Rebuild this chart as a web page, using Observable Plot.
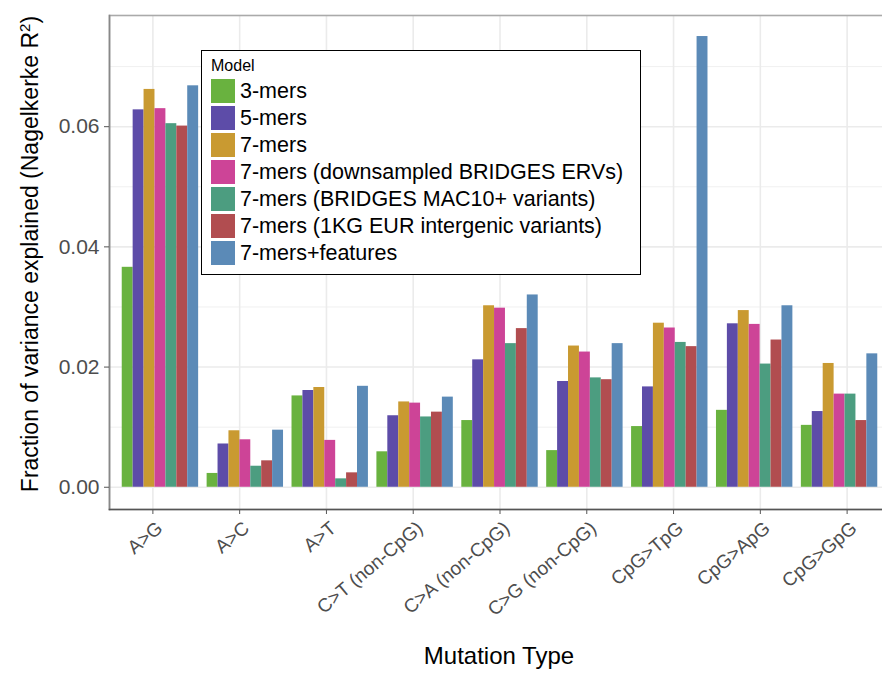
<!DOCTYPE html>
<html>
<head>
<meta charset="utf-8">
<script src="https://cdn.jsdelivr.net/npm/d3@7"></script>
<script src="https://cdn.jsdelivr.net/npm/@observablehq/plot@0.6"></script>
<style>
  html, body { margin: 0; padding: 0; background: #fff; overflow: hidden; }
  #wrap { position: relative; width: 882px; height: 677px; overflow: hidden; font-family: "Liberation Sans", Arial, sans-serif; }
  #wrap svg { position: absolute; left: 0; top: 0; max-width: none !important; }
  .ytitle { position: absolute; left: 30px; top: 254px; transform: translate(-50%, -50%) rotate(-90deg); white-space: nowrap; font-size: 23px; color: #000; }
  .xtitle { position: absolute; left: 499px; top: 642px; transform: translateX(-50%); white-space: nowrap; font-size: 24px; color: #000; }
  #legend { position: absolute; left: 201px; top: 50px; width: 438px; height: 223px; border: 1.5px solid #000; background: #fff; }
  #legend .title { position: absolute; left: 9px; top: 6px; font-size: 16px; }
  #legend .row { position: absolute; left: 9px; height: 24px; display: flex; align-items: center; white-space: nowrap; font-size: 21.5px; }
  #legend .sw { width: 24px; height: 24px; margin-right: 5px; flex: none; }
</style>
</head>
<body>
<div id="wrap"></div>
<script>
// ---- data ----
const types = ["A>G", "A>C", "A>T", "C>T (non-CpG)", "C>A (non-CpG)", "C>G (non-CpG)", "CpG>TpG", "CpG>ApG", "CpG>GpG"];
const models = ["3-mers", "5-mers", "7-mers", "7-mers (downsampled BRIDGES ERVs)", "7-mers (BRIDGES MAC10+ variants)", "7-mers (1KG EUR intergenic variants)", "7-mers+features"];
const mers3     = [0.0366, 0.0023, 0.0152, 0.0059, 0.0111, 0.0061, 0.0101, 0.0128, 0.0103];
const mers5     = [0.0628, 0.0072, 0.0161, 0.0119, 0.0212, 0.0176, 0.0167, 0.0272, 0.0126];
const mers7     = [0.0662, 0.0094, 0.0166, 0.0142, 0.0302, 0.0235, 0.0273, 0.0294, 0.0206];
const mers7down = [0.0630, 0.0079, 0.0078, 0.0140, 0.0298, 0.0225, 0.0265, 0.0271, 0.0155];
const mers7mac  = [0.0605, 0.0035, 0.0014, 0.0117, 0.0239, 0.0182, 0.0241, 0.0205, 0.0155];
const mers7kg   = [0.0601, 0.0044, 0.0024, 0.0125, 0.0264, 0.0179, 0.0234, 0.0245, 0.0111];
const mers7feat = [0.0668, 0.0095, 0.0168, 0.0150, 0.0320, 0.0239, 0.0750, 0.0302, 0.0222];
const majorTicks = [0, 0.02, 0.04, 0.06];
const minorTicks = [0.01, 0.03, 0.05, 0.07];
const colors = ["#69b23f", "#5d4ca8", "#c99a31", "#cd4497", "#4c9d80", "#b14d50", "#5b8ab7"];

const series = [mers3, mers5, mers7, mers7down, mers7mac, mers7kg, mers7feat];
const rows = [];
models.forEach((m, i) => types.forEach((t, j) => rows.push({model: m, type: t, value: series[i][j]})));

const W = 891, H = 677;
const common = {
  width: W, height: H,
  marginLeft: 109, marginRight: 1, marginTop: 15, marginBottom: 168
};
const yDomain = [-0.0037, 0.0785];
const font = "Liberation Sans, Arial, sans-serif";

// background: panel, grid, axes
const bg = Plot.plot({
  ...common,
  style: {background: "#fff", fontFamily: font, overflow: "visible", maxWidth: "none"},
  x: {domain: types, paddingInner: 0.1, paddingOuter: 0.15, round: false, axis: null},
  y: {domain: yDomain, axis: null},
  marks: [
    Plot.gridY(minorTicks, {stroke: "#f0f0f0", strokeOpacity: 1, strokeWidth: 1}),
    Plot.gridY(majorTicks, {stroke: "#ebebeb", strokeOpacity: 1, strokeWidth: 1.6}),
    Plot.gridX(types, {stroke: "#ebebeb", strokeOpacity: 1, strokeWidth: 1.6}),
    Plot.frame({stroke: "#aaaaaa", strokeWidth: 1.6}),
    Plot.frame({anchor: "left", stroke: "#888", strokeWidth: 1.6}),
    Plot.frame({anchor: "bottom", stroke: "#555", strokeWidth: 1.6}),
    Plot.axisY(majorTicks, {tickFormat: ".2f", tickSize: 5, tickPadding: 5, fontSize: 21, color: "#4d4d4d", stroke: "#555", label: null}),
    // tick marks only
    Plot.axisX(types, {tickSize: 5, tickFormat: () => "", stroke: "#555", label: null}),
    // rotated tick labels
    Plot.axisX(types, {tickRotate: -40, tickSize: 0, tickPadding: 9, fontSize: 19, color: "#4d4d4d", label: null, dx: 7, dy: 7})
  ]
});

// foreground: grouped bars
const fg = Plot.plot({
  ...common,
  style: {background: "transparent", fontFamily: font, maxWidth: "none"},
  fx: {domain: types, paddingInner: 0.1, paddingOuter: 0.15, round: false, axis: null},
  x: {domain: models, padding: 0, round: false, axis: null},
  y: {domain: yDomain, axis: null},
  color: {domain: models, range: colors},
  marks: [
    Plot.barY(rows, {fx: "type", x: "model", y: "value", fill: "model", inset: 0})
  ]
});

const wrap = document.getElementById("wrap");
wrap.appendChild(bg);
wrap.appendChild(fg);

const yt = document.createElement("div");
yt.className = "ytitle";
yt.innerHTML = "Fraction of variance explained (Nagelkerke R<sup style=\"font-size:15px\">2</sup>)";
wrap.appendChild(yt);

const xt = document.createElement("div");
xt.className = "xtitle";
xt.textContent = "Mutation Type";
wrap.appendChild(xt);

const lg = document.createElement("div");
lg.id = "legend";
const lt = document.createElement("div");
lt.className = "title";
lt.textContent = "Model";
lg.appendChild(lt);
models.forEach((m, i) => {
  const r = document.createElement("div");
  r.className = "row";
  r.style.top = (28 + i * 27) + "px";
  const sw = document.createElement("span");
  sw.className = "sw";
  sw.style.background = colors[i];
  const tx = document.createElement("span");
  tx.textContent = m;
  r.appendChild(sw);
  r.appendChild(tx);
  lg.appendChild(r);
});
wrap.appendChild(lg);
</script>
</body>
</html>
